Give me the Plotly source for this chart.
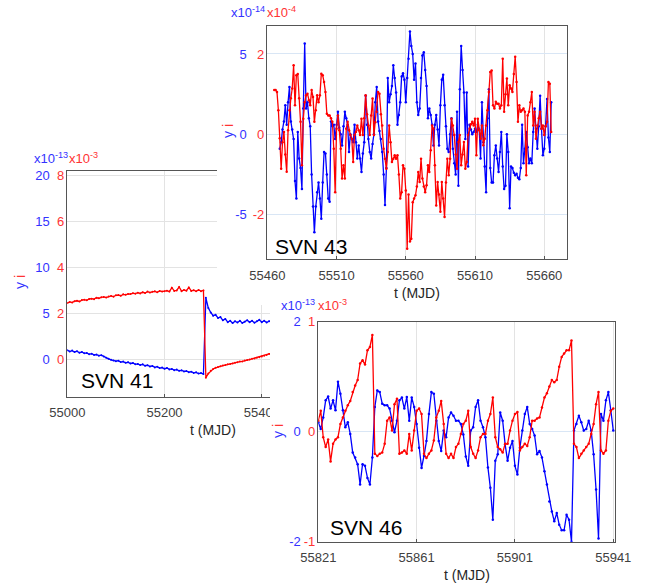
import plotly.graph_objects as go

W, H = 654, 588
FONT = "Liberation Sans, Arial, sans-serif"
BLUE, RED = "#0000ff", "#ff0000"
BLUE_T, RED_T = "#3333ff", "#ff3333"
GRAY = "#404040"


def fx(p):
    return p / W


def fy(p):
    return 1 - p / H


# ---------------- SVN 41 (5-day samples) ----------------
t41_start, t41_step = 55000, 5
y41_blue = [1.00, 0.85, 0.95, 0.80, 0.88, 0.72, 0.80, 0.65, 0.70, 0.55,
            0.62, 0.48, 0.52, 0.40, 0.45, 0.30, 0.18, 0.05, -0.05, -0.12,
            -0.20, -0.15, -0.30, -0.25, -0.38, -0.32, -0.45, -0.40, -0.55, -0.50,
            -0.62, -0.55, -0.70, -0.65, -0.78, -0.72, -0.88, -0.80, -0.95, -0.90,
            -1.02, -0.95, -1.10, -1.05, -1.18, -1.12, -1.25, -1.20, -1.32, -1.28,
            -1.40, -1.35, -1.48, -1.42, -1.55, -1.50, -1.60,
            6.70, 5.60, 5.10, 4.75, 4.85, 4.50, 4.60, 4.25, 4.40, 4.05,
            4.20, 3.95, 4.15, 4.00, 4.20, 3.95, 4.10, 4.25, 4.05, 4.20,
            3.98, 4.15, 4.30, 4.05, 4.20, 4.00, 4.15, 4.10]
y41_red = [2.45, 2.50, 2.47, 2.53, 2.55, 2.52, 2.58, 2.60, 2.57, 2.63,
           2.64, 2.62, 2.68, 2.66, 2.70, 2.72, 2.69, 2.74, 2.76, 2.73,
           2.79, 2.80, 2.77, 2.83, 2.81, 2.85, 2.84, 2.88, 2.86, 2.90,
           2.87, 2.92, 2.89, 2.95, 2.91, 2.94, 2.96, 2.92, 2.98, 2.95,
           2.97, 2.99, 2.95, 3.12, 2.98, 3.00, 3.15, 2.97, 3.02, 2.99,
           3.13, 2.98, 3.01, 2.96, 3.02, 2.97, 3.00,
           -0.80, -0.62, -0.50, -0.42, -0.37, -0.33, -0.30, -0.27, -0.25, -0.22,
           -0.20, -0.18, -0.15, -0.13, -0.10, -0.09, -0.05, -0.03, -0.01, 0.02,
           0.04, 0.07, 0.09, 0.12, 0.16, 0.19, 0.23, 0.27]
t41_blue = [t41_start + t41_step * i for i in range(len(y41_blue))]
t41_red = [t41_start + t41_step * i for i in range(len(y41_red))]

# ---------------- SVN 43 (daily) ----------------
t43_blue_start = 55469
y43_blue = [-0.9, -0.5, 0.3, 0.8, 1.8, 0.6, 2.0, 2.95, 0.8, 0.3,
            -0.3, -2.9, -4.0, 0.15, -1.5, -2.1, -3.4, 1.6, 5.65, 1.6,
            2.0, 1.0, 0.5, -2.5, -4.5, -6.1, -4.5, -3.6, -3.0, -4.0,
            -5.25, -3.0, -1.1, -1.2, -2.5, -4.0, -4.2, 0.8, 0.5, 0.6,
            -0.3, 0.6, 1.4, 0.4, 0.0, -0.7, 0.5, 1.4, 1.0, 0.6,
            -1.1, 0.0, -0.3, -0.5, 0.6, -0.5, -1.5, -0.7, -1.5, -2.35,
            -1.2, -0.5, 2.4, 0.6, -0.3, -1.1, -1.5, -0.6, 0.0, 2.0,
            2.95, 0.8, 0.2, -0.3, -1.1, -2.5, -4.4, -2.1, 3.5, 2.0,
            2.5, 3.0, 4.3, 3.5, 2.6, 0.6, 1.2, 2.0, 3.6, 3.8,
            3.4, 2.0, 3.5, 4.7, 6.4, 5.5, 5.0, 3.4,
            4.4, 2.0, 1.2, 1.6, 3.5, 4.9, 5.1, 4.0, 3.0, 1.0,
            1.6, 1.2, 0.6, -0.7, 0.6, 1.2, 0.3, -0.7, 1.8, 3.4,
            3.7, 1.8, 0.5, -0.9, -1.1, 0.0, 1.0, -0.9, -1.8, -2.5,
            1.4, -3.2, 2.8, 5.5, 4.0, 2.6, -0.3, 2.6, -2.0, 0.6,
            0.3, 0.0, 0.15, 0.35, 0.15, 0.6, 0.3, -1.5, 2.0, -0.5,
            -2.0, -3.6, 1.0, 2.8, -2.1, -3.0, -3.0, -1.3, -0.7, -1.5,
            -2.35, -1.1, 0.15, -2.0, -3.4, -3.2, 0.0, -1.1, -4.6, -2.0,
            -2.1, -2.4, -2.55, -2.45, -2.7, -2.8, -2.1, 0.6, -1.8, -0.9,
            0.15, -0.8, -1.8, -1.5, -1.8, 0.15, 1.6, 0.35, -0.9, 0.5,
            2.4, 0.35, -1.3, -0.9, 0.5, 2.2, -0.2, -1.1, 2.0]
t43_red_start = 55465
y43_red = [1.10, 1.10, 1.05, 0.60, -0.10, -0.86, -0.20, 0.06, -0.50, -0.93,
           0.10, 0.60, 0.90, 1.14, 1.72, 0.72, 1.47, 1.50, 0.90, 0.31,
           -0.77, 0.39, 0.80, 0.97, 1.01, 0.85, 0.72, 1.10, 0.93, 0.31,
           0.60, 0.97, 0.80, 0.97, 1.51, 1.47, 1.30, 1.05, 0.51, 0.47,
           0.47, 0.40, 0.31, -0.36, -1.44, 0.14, 0.47, 0.10, -0.36, -1.10,
           -0.77, -1.10, 0.14, 0.31, 0.10, -0.02, -0.11, -0.69, -0.02, 0.06,
           0.22, 0.10, -0.02, 0.39, -0.02, 0.40, 0.97, 0.50, 0.22, -0.02,
           0.47, 0.89, -0.02, 0.30, 0.56, 1.05, 1.01, 0.50, 0.22, -0.36,
           -0.61, -0.86, -0.44, 0.22, -0.20, -0.69, -0.61, -0.52, -0.61, -0.52,
           -1.00, -1.60, -1.44, -0.77, -0.86, -1.40, -2.85, -1.50, -2.67, -2.60,
           -1.69, -1.60, -1.52, -1.30, -0.94, -1.19, -0.61, -1.10, -1.30, -1.44,
           -1.27, -0.77, -0.94, -0.40, 0.22, 0.14, -0.77, -1.77, -1.19, -1.50,
           -1.93, -1.19, -1.60, -2.06, -1.20, -0.61, -1.02, -0.61, 0.39, 0.22,
           -0.02, -0.50, -0.86, -0.19, -0.02, -0.77, -0.50, -0.19, -0.86, -0.69,
           -0.02, 0.14, 0.25, 0.31, 0.22, 0.39, -0.52, 0.39, 0.10, -0.11,
           0.22, -0.27, -0.11, 0.22, 0.60, 1.05, 1.55, 1.59, 0.72, 0.64,
           0.81, 0.76, 0.76, 0.64, 0.72, 1.88, 0.56, 1.00, 1.39, 0.72,
           1.22, 1.14, 1.05, 1.50, 1.93, 1.30, 0.31, 0.72, 0.56, 0.60,
           0.64, 0.56, -1.02, 0.47, 0.56, 0.80, 1.05, 0.22, 0.56, -0.11,
           0.22, 0.40, 0.56, 0.14, 0.22, -0.02, 0.20, 0.31, 1.30, 1.26,
           0.06]
t43_blue = [t43_blue_start + i for i in range(len(y43_blue))]
t43_red = [t43_red_start + i for i in range(len(y43_red))]

# ---------------- SVN 46 (daily) ----------------
t46_start = 55821
y46_blue = [0.17, 0.05, 0.26, 0.57, 0.64, 0.42, 0.57, 0.39, 0.91, 0.69,
            0.39, 0.08, 0.17, -0.04, -0.38, -0.47, -0.59, -0.96, -0.59, -0.62,
            -0.84, -0.96, -0.47, 0.45, 0.75, 0.72, 0.51, 0.48, 0.48, 0.42,
            0.20, -0.01, 0.20, 0.57, 0.62, 0.42, 0.63, 0.20, 0.62, 0.45,
            0.14, -0.29, -0.66, -0.44, -0.17, 0.32, 0.72, 0.69, 0.20, -0.17,
            -0.35, 0.02, -0.10, 0.26, 0.35, 0.29, 0.20, 0.20, 0.14, -0.05,
            -0.45, -0.62, 0.02, 0.08, 0.45, 0.57, 0.20, 0.08, -0.10, -0.65,
            -1.02, -1.60, -0.53, -0.41, 0.35, 0.20, -0.23, -0.53, -0.29, -0.17,
            -0.62, -0.78, -0.29, 0.02, 0.32, 0.45, 0.14, 0.05, -0.07, -0.41,
            -0.35, -0.47, -0.72, -0.96, -1.27, -1.45, -1.63, -1.48, -1.69, -1.79,
            -1.79, -1.51, -1.60, -2.00, 0.02, 0.14, 0.29, 0.17, 0.02, 0.05,
            0.20, 0.02, -0.41, -1.05, -1.94, 0.32, 0.20, 0.57, 0.72, 0.39, 0.02]
y46_red = [0.10, 0.19, -0.05, -0.14, -0.07, -0.27, -0.11, -0.07, -0.05, 0.07,
           0.13, 0.19, 0.24, 0.28, 0.36, 0.42, 0.47, 0.62, 0.65, 0.61,
           0.74, 0.77, 0.88, -0.20, -0.22, -0.20, -0.19, -0.11, 0.10, 0.13,
           0.01, 0.25, 0.30, -0.20, -0.19, -0.17, -0.20, -0.02, -0.17, 0.01,
           0.19, 0.21, 0.16, -0.20, -0.24, -0.20, -0.17, -0.08, 0.13, 0.19,
           0.28, 0.07, -0.20, -0.24, -0.20, -0.24, -0.14, -0.11, -0.02, 0.07,
           0.10, 0.19, -0.14, -0.20, -0.24, -0.17, -0.05, -0.02, -0.02, 0.10,
           0.16, 0.31, -0.05, -0.14, -0.16, -0.19, -0.11, -0.11, 0.01, 0.10,
           0.16, 0.18, -0.17, -0.14, -0.11, -0.13, -0.05, 0.10, 0.10, 0.12,
           0.13, 0.22, 0.31, 0.35, 0.41, 0.47, 0.45, 0.47, 0.59, 0.68,
           0.71, 0.74, 0.74, 0.83, -0.11, -0.14, -0.24, -0.20, -0.17, -0.14,
           -0.11, -0.02, 0.07, 0.25, 0.36, -0.17, -0.20, -0.17, 0.10, 0.19, 0.21]
t46_blue = [t46_start + i for i in range(len(y46_blue))]
t46_red = [t46_start + i for i in range(len(y46_red))]

# tick values / labels
x41_ticks = [55000, 55200, 55400]
x43_ticks = [55460, 55510, 55560, 55610, 55660]
x46_ticks = [55821, 55861, 55901, 55941]
yb41_ticks, yr41_ticks = [0, 5, 10, 15, 20], [0, 2, 4, 6, 8]
yb43_ticks, yr43_ticks = [-5, 0, 5], [-2, 0, 2]
yb46_ticks, yr46_ticks = [-2, 0, 2], [-1, 0, 1]


def lbl(vals):
    return [str(v) for v in vals]


fig = go.Figure()


def line(x, y, xa, ya, color, msize):
    return go.Scatter(x=x, y=y, xaxis=xa, yaxis=ya, mode="lines+markers",
                      line=dict(color=color, width=1.3),
                      marker=dict(color=color, size=msize),
                      showlegend=False, hoverinfo="skip")


def blank(xa, ya):
    return go.Scatter(x=[], y=[], xaxis=xa, yaxis=ya, showlegend=False,
                      hoverinfo="skip")


# order matters for layering: panel 1, cover, panel 2, cover, panel 3
fig.add_trace(line(t41_blue, y41_blue, "x", "y", BLUE, 2))
fig.add_trace(line(t41_red, y41_red, "x", "y2", RED, 2))
fig.add_trace(blank("x2", "y3"))
fig.add_trace(line(t43_blue, y43_blue, "x3", "y4", BLUE, 2.5))
fig.add_trace(line(t43_red, y43_red, "x3", "y5", RED, 2.5))
fig.add_trace(blank("x4", "y6"))
fig.add_trace(line(t46_blue, y46_blue, "x5", "y7", BLUE, 2.5))
fig.add_trace(line(t46_red, y46_red, "x5", "y8", RED, 2.5))

BORDER = "#555555"
GRID = "#e3e3e3"
GRIDB = "#d9e6f5"


def xax(domain, rng, ticks, anchor):
    return dict(domain=domain, range=rng, tickvals=ticks, ticktext=lbl(ticks),
                anchor=anchor, automargin=False,
                showline=True, linecolor=BORDER, linewidth=1, mirror=True,
                ticks="inside", ticklen=3, tickcolor=BORDER,
                showgrid=True, gridcolor=GRID, zeroline=False,
                tickfont=dict(family=FONT, size=13, color=GRAY),
                ticklabelstandoff=4)


def ybx(domain, rng, ticks, anchor, grid, standoff):
    return dict(domain=domain, range=rng, tickvals=ticks, ticktext=lbl(ticks),
                anchor=anchor, automargin=False,
                showline=True, linecolor=BORDER, linewidth=1, mirror=True,
                ticks="", showgrid=True, gridcolor=grid, zeroline=False,
                tickfont=dict(family=FONT, size=13, color=BLUE_T),
                ticklabelstandoff=standoff)


def yrx(rng, ticks, over, anchor):
    return dict(range=rng, tickvals=ticks, ticktext=lbl(ticks), overlaying=over,
                anchor=anchor, automargin=False,
                side="left", showline=False, showgrid=False, zeroline=False,
                ticks="", tickfont=dict(family=FONT, size=13, color=RED_T),
                ticklabelstandoff=2)


def hidden(domain, anchor):
    return dict(domain=domain, anchor=anchor, visible=False, range=[0, 1],
                automargin=False)


layout = dict(
    template="none",
    width=W, height=H, autosize=False,
    margin=dict(l=0, r=0, t=0, b=0, pad=0),
    paper_bgcolor="white", plot_bgcolor="white",
    xaxis=xax([fx(67.3), fx(359)], [55000, 55600], x41_ticks, "y"),
    yaxis=ybx([fy(396.7), fy(170.7)], [-4.07, 20.54], yb41_ticks, "x", GRID, 14),
    yaxis2=yrx([-1.628, 8.216], yr41_ticks, "y", "x"),
    xaxis2=hidden([fx(217), 1.0], "y3"),
    yaxis3=hidden([fy(305), 1.0], "x2"),
    xaxis3=xax([fx(267.3), fx(566.7)], [55460, 55676.2], x43_ticks, "y4"),
    yaxis4=ybx([fy(259.3), fy(26)], [-7.78, 6.74], yb43_ticks, "x3", GRIDB, 17),
    yaxis5=yrx([-3.112, 2.696], yr43_ticks, "y4", "x3"),
    xaxis4=hidden([fx(270), 1.0], "y6"),
    yaxis6=hidden([0.0, fy(305)], "x4"),
    xaxis5=xax([fx(318.3), fx(615)], [55821, 55941.7], x46_ticks, "y7"),
    yaxis7=ybx([fy(541.7), fy(321.7)], [-2, 2], yb46_ticks, "x5", GRIDB, 14),
    yaxis8=yrx([-1, 1], yr46_ticks, "y7", "x5"),
)
fig.update_layout(**layout)

ann = []


def text(x, y, s, size=13, color=GRAY, xanchor="center", yanchor="middle", angle=0):
    ann.append(dict(x=fx(x), y=fy(y), xref="paper", yref="paper", text=s,
                    showarrow=False, xanchor=xanchor, yanchor=yanchor,
                    textangle=angle, borderpad=0,
                    font=dict(family=FONT, size=size, color=color)))


yi = '<span style="color:%s">y</span> <span style="color:%s">i</span>' % (BLUE_T, RED_T)

# panel 1
text(33, 158, "x10<sup>-13</sup>", color=BLUE_T, xanchor="left")
text(68, 158, "x10<sup>-3</sup>", color=RED_T, xanchor="left")
text(80, 380, "SVN 41", size=21, color="black", xanchor="left")
text(213, 430, "t (MJD)", size=14, color="#262626")
text(20, 282, yi, size=14, angle=-90)
# panel 2
text(230, 12, "x10<sup>-14</sup>", color=BLUE_T, xanchor="left")
text(266, 12, "x10<sup>-4</sup>", color=RED_T, xanchor="left")
text(274, 246.7, "SVN 43", size=21, color="black", xanchor="left")
text(417, 293, "t (MJD)", size=14, color="#262626")
text(228, 131, yi, size=14, angle=-90)
# panel 3
text(280, 305, "x10<sup>-13</sup>", color=BLUE_T, xanchor="left")
text(317, 305, "x10<sup>-3</sup>", color=RED_T, xanchor="left")
text(329, 527, "SVN 46", size=21, color="black", xanchor="left")
text(467, 575, "t (MJD)", size=14, color="#262626")
text(278, 431, yi, size=14, angle=-90)

fig.update_layout(annotations=ann)
fig.write_html("out.html")
